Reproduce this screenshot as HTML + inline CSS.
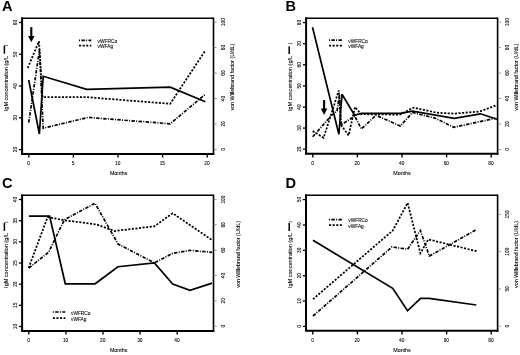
<!DOCTYPE html>
<html><head><meta charset="utf-8"><style>
html,body{margin:0;padding:0;background:#fff;}
svg{display:block;will-change:transform;}
text{font-family:"Liberation Sans", sans-serif;}
text.s{stroke:#000;stroke-width:0.08px;}
</style></head><body>
<svg width="520" height="355" viewBox="0 0 520 355" font-family='"Liberation Sans", sans-serif'>
<rect width="520" height="355" fill="#fff"/>
<text x="1.9" y="11.2" font-size="14.6" font-weight="bold">A</text>
<path d="M22.1,17.5V153.9" stroke="#000" stroke-width="2" fill="none"/>
<path d="M21.1,153.9H214.3" stroke="#000" stroke-width="2" fill="none"/>
<path d="M21.1,18.3H213.5" stroke="#000" stroke-width="1.6" fill="none"/>
<path d="M213.5,17.5V154.9" stroke="#000" stroke-width="1.6" fill="none"/>
<line x1="18.900000000000002" y1="149.6" x2="22.1" y2="149.6" stroke="#000" stroke-width="1.3"/>
<text class="s" transform="translate(16.900000000000002,149.6) rotate(-90)" text-anchor="middle" font-size="4.8" fill="#000">20</text>
<line x1="18.900000000000002" y1="117.8" x2="22.1" y2="117.8" stroke="#000" stroke-width="1.3"/>
<text class="s" transform="translate(16.900000000000002,117.8) rotate(-90)" text-anchor="middle" font-size="4.8" fill="#000">30</text>
<line x1="18.900000000000002" y1="86.0" x2="22.1" y2="86.0" stroke="#000" stroke-width="1.3"/>
<text class="s" transform="translate(16.900000000000002,86.0) rotate(-90)" text-anchor="middle" font-size="4.8" fill="#000">40</text>
<line x1="18.900000000000002" y1="54.3" x2="22.1" y2="54.3" stroke="#000" stroke-width="1.3"/>
<text class="s" transform="translate(16.900000000000002,54.3) rotate(-90)" text-anchor="middle" font-size="4.8" fill="#000">50</text>
<line x1="18.900000000000002" y1="22.5" x2="22.1" y2="22.5" stroke="#000" stroke-width="1.3"/>
<text class="s" transform="translate(16.900000000000002,22.5) rotate(-90)" text-anchor="middle" font-size="4.8" fill="#000">60</text>
<line x1="213.5" y1="149.4" x2="216.7" y2="149.4" stroke="#777" stroke-width="0.8"/>
<text class="s" transform="translate(224.7,149.4) rotate(-90)" text-anchor="middle" font-size="4.8" fill="#000">0</text>
<line x1="213.5" y1="123.9" x2="216.7" y2="123.9" stroke="#777" stroke-width="0.8"/>
<text class="s" transform="translate(224.7,123.9) rotate(-90)" text-anchor="middle" font-size="4.8" fill="#000">20</text>
<line x1="213.5" y1="98.5" x2="216.7" y2="98.5" stroke="#777" stroke-width="0.8"/>
<text class="s" transform="translate(224.7,98.5) rotate(-90)" text-anchor="middle" font-size="4.8" fill="#000">40</text>
<line x1="213.5" y1="73.0" x2="216.7" y2="73.0" stroke="#777" stroke-width="0.8"/>
<text class="s" transform="translate(224.7,73.0) rotate(-90)" text-anchor="middle" font-size="4.8" fill="#000">60</text>
<line x1="213.5" y1="47.6" x2="216.7" y2="47.6" stroke="#777" stroke-width="0.8"/>
<text class="s" transform="translate(224.7,47.6) rotate(-90)" text-anchor="middle" font-size="4.8" fill="#000">80</text>
<line x1="213.5" y1="22.1" x2="216.7" y2="22.1" stroke="#777" stroke-width="0.8"/>
<text class="s" transform="translate(224.7,22.1) rotate(-90)" text-anchor="middle" font-size="4.8" fill="#000">100</text>
<line x1="28.8" y1="153.9" x2="28.8" y2="157.5" stroke="#000" stroke-width="1.4"/>
<text class="s" x="28.5" y="165.3" text-anchor="middle" font-size="4.8" fill="#000">0</text>
<line x1="73.39999999999999" y1="153.9" x2="73.39999999999999" y2="157.5" stroke="#000" stroke-width="1.4"/>
<text class="s" x="73.1" y="165.3" text-anchor="middle" font-size="4.8" fill="#000">5</text>
<line x1="118.0" y1="153.9" x2="118.0" y2="157.5" stroke="#000" stroke-width="1.4"/>
<text class="s" x="117.7" y="165.3" text-anchor="middle" font-size="4.8" fill="#000">10</text>
<line x1="162.60000000000002" y1="153.9" x2="162.60000000000002" y2="157.5" stroke="#000" stroke-width="1.4"/>
<text class="s" x="162.3" y="165.3" text-anchor="middle" font-size="4.8" fill="#000">15</text>
<line x1="207.20000000000002" y1="153.9" x2="207.20000000000002" y2="157.5" stroke="#000" stroke-width="1.4"/>
<text class="s" x="206.9" y="165.3" text-anchor="middle" font-size="4.8" fill="#000">20</text>
<text class="s" x="118.6" y="175" text-anchor="middle" font-size="5.3" fill="#000">Months</text>
<text class="s" transform="translate(7.9,111.2) rotate(-90)" font-size="5.5" fill="#000" textLength="55.2" lengthAdjust="spacingAndGlyphs">IgM concentration (g/L</text>
<line x1="4.4" y1="45.8" x2="4.4" y2="53.7" stroke="#000" stroke-width="1.5"/>
<line x1="3.9" y1="45.4" x2="8.1" y2="45.4" stroke="#555" stroke-width="0.8"/>
<text class="s" transform="translate(234.0,77.15) rotate(-90)" text-anchor="middle" font-size="5.4" fill="#000" textLength="66.89999999999999" lengthAdjust="spacingAndGlyphs">von Willebrand factor (U/dL)</text>
<line x1="79" y1="40.4" x2="91.3" y2="40.4" fill="none" stroke="#000" stroke-width="1.7" stroke-dasharray="3.4,1.3,1,1.4" stroke-dashoffset="4.7"/>
<line x1="79" y1="45.6" x2="91.3" y2="45.6" fill="none" stroke="#000" stroke-width="1.75" stroke-dasharray="2.1,1.5"/>
<text class="s" x="97.6" y="43.1" font-size="4.8" fill="#000">vWFRCo</text>
<text class="s" x="97.6" y="48.300000000000004" font-size="4.8" fill="#000">vWFAg</text>
<polyline points="28.7,122.6 39.5,50.0 43.2,128.2 88.2,117.4 170.2,123.8 205.4,94.2" fill="none" stroke="#000" stroke-width="1.7" stroke-dasharray="3.4,1.3,1,1.4"/>
<polyline points="27.7,68.0 39.0,41.3 42.5,97.2 87.0,97.2 170.2,103.8 205.4,50.3" fill="none" stroke="#000" stroke-width="1.75" stroke-dasharray="2.1,1.5"/>
<polyline points="28.7,80.0 39.4,134.0 43.2,76.3 86.7,89.3 170.2,87.2 205.4,101.8" fill="none" stroke="#000" stroke-width="1.7" stroke-linejoin="miter" stroke-miterlimit="3"/>
<line x1="31.3" y1="27.1" x2="31.3" y2="38.3" stroke="#000" stroke-width="2.1"/>
<polygon points="28.1,35.9 34.5,35.9 31.3,42.3" fill="#000"/>
<text x="285.6" y="11.4" font-size="14.6" font-weight="bold">B</text>
<path d="M306.1,17.5V153.8" stroke="#000" stroke-width="2" fill="none"/>
<path d="M305.1,153.8H498.40000000000003" stroke="#000" stroke-width="2" fill="none"/>
<path d="M305.1,18.3H497.6" stroke="#000" stroke-width="1.6" fill="none"/>
<path d="M497.6,17.5V154.8" stroke="#000" stroke-width="1.6" fill="none"/>
<line x1="302.90000000000003" y1="149.2" x2="306.1" y2="149.2" stroke="#000" stroke-width="1.3"/>
<text class="s" transform="translate(300.90000000000003,149.2) rotate(-90)" text-anchor="middle" font-size="4.8" fill="#000">20</text>
<line x1="302.90000000000003" y1="128.1" x2="306.1" y2="128.1" stroke="#000" stroke-width="1.3"/>
<text class="s" transform="translate(300.90000000000003,128.1) rotate(-90)" text-anchor="middle" font-size="4.8" fill="#000">30</text>
<line x1="302.90000000000003" y1="107.0" x2="306.1" y2="107.0" stroke="#000" stroke-width="1.3"/>
<text class="s" transform="translate(300.90000000000003,107.0) rotate(-90)" text-anchor="middle" font-size="4.8" fill="#000">40</text>
<line x1="302.90000000000003" y1="85.9" x2="306.1" y2="85.9" stroke="#000" stroke-width="1.3"/>
<text class="s" transform="translate(300.90000000000003,85.9) rotate(-90)" text-anchor="middle" font-size="4.8" fill="#000">50</text>
<line x1="302.90000000000003" y1="64.8" x2="306.1" y2="64.8" stroke="#000" stroke-width="1.3"/>
<text class="s" transform="translate(300.90000000000003,64.8) rotate(-90)" text-anchor="middle" font-size="4.8" fill="#000">60</text>
<line x1="302.90000000000003" y1="43.7" x2="306.1" y2="43.7" stroke="#000" stroke-width="1.3"/>
<text class="s" transform="translate(300.90000000000003,43.7) rotate(-90)" text-anchor="middle" font-size="4.8" fill="#000">70</text>
<line x1="302.90000000000003" y1="22.6" x2="306.1" y2="22.6" stroke="#000" stroke-width="1.3"/>
<text class="s" transform="translate(300.90000000000003,22.6) rotate(-90)" text-anchor="middle" font-size="4.8" fill="#000">80</text>
<line x1="497.6" y1="149.5" x2="500.8" y2="149.5" stroke="#777" stroke-width="0.8"/>
<text class="s" transform="translate(508.8,149.5) rotate(-90)" text-anchor="middle" font-size="4.8" fill="#000">0</text>
<line x1="497.6" y1="124.0" x2="500.8" y2="124.0" stroke="#777" stroke-width="0.8"/>
<text class="s" transform="translate(508.8,124.0) rotate(-90)" text-anchor="middle" font-size="4.8" fill="#000">20</text>
<line x1="497.6" y1="98.5" x2="500.8" y2="98.5" stroke="#777" stroke-width="0.8"/>
<text class="s" transform="translate(508.8,98.5) rotate(-90)" text-anchor="middle" font-size="4.8" fill="#000">40</text>
<line x1="497.6" y1="73.1" x2="500.8" y2="73.1" stroke="#777" stroke-width="0.8"/>
<text class="s" transform="translate(508.8,73.1) rotate(-90)" text-anchor="middle" font-size="4.8" fill="#000">60</text>
<line x1="497.6" y1="47.6" x2="500.8" y2="47.6" stroke="#777" stroke-width="0.8"/>
<text class="s" transform="translate(508.8,47.6) rotate(-90)" text-anchor="middle" font-size="4.8" fill="#000">80</text>
<line x1="497.6" y1="22.1" x2="500.8" y2="22.1" stroke="#777" stroke-width="0.8"/>
<text class="s" transform="translate(508.8,22.1) rotate(-90)" text-anchor="middle" font-size="4.8" fill="#000">100</text>
<line x1="312.8" y1="153.8" x2="312.8" y2="157.4" stroke="#000" stroke-width="1.4"/>
<text class="s" x="312.5" y="165.20000000000002" text-anchor="middle" font-size="4.8" fill="#000">0</text>
<line x1="357.40000000000003" y1="153.8" x2="357.40000000000003" y2="157.4" stroke="#000" stroke-width="1.4"/>
<text class="s" x="357.1" y="165.20000000000002" text-anchor="middle" font-size="4.8" fill="#000">20</text>
<line x1="402.0" y1="153.8" x2="402.0" y2="157.4" stroke="#000" stroke-width="1.4"/>
<text class="s" x="401.7" y="165.20000000000002" text-anchor="middle" font-size="4.8" fill="#000">40</text>
<line x1="446.6" y1="153.8" x2="446.6" y2="157.4" stroke="#000" stroke-width="1.4"/>
<text class="s" x="446.3" y="165.20000000000002" text-anchor="middle" font-size="4.8" fill="#000">60</text>
<line x1="491.2" y1="153.8" x2="491.2" y2="157.4" stroke="#000" stroke-width="1.4"/>
<text class="s" x="490.9" y="165.20000000000002" text-anchor="middle" font-size="4.8" fill="#000">80</text>
<text class="s" x="402" y="175" text-anchor="middle" font-size="5.3" fill="#000">Months</text>
<text class="s" transform="translate(291.5,111.2) rotate(-90)" font-size="5.5" fill="#000" textLength="55.400000000000006" lengthAdjust="spacingAndGlyphs">IgM concentration (g/L</text>
<line x1="289.2" y1="46.2" x2="289.2" y2="54.1" stroke="#000" stroke-width="1.5"/>
<line x1="288.3" y1="43.6" x2="292.6" y2="43.6" stroke="#555" stroke-width="0.8"/>
<text class="s" transform="translate(517.6,77.25) rotate(-90)" text-anchor="middle" font-size="5.4" fill="#000" textLength="66.9" lengthAdjust="spacingAndGlyphs">von Willebrand factor (U/dL)</text>
<line x1="329" y1="40.2" x2="342" y2="40.2" fill="none" stroke="#000" stroke-width="1.7" stroke-dasharray="3.4,1.3,1,1.4" stroke-dashoffset="4.7"/>
<line x1="329" y1="45.6" x2="342" y2="45.6" fill="none" stroke="#000" stroke-width="1.75" stroke-dasharray="2.1,1.5"/>
<text class="s" x="348.3" y="42.900000000000006" font-size="4.8" fill="#000">vWFRCo</text>
<text class="s" x="348.3" y="48.300000000000004" font-size="4.8" fill="#000">vWFAg</text>
<polyline points="312.7,136.8 331.5,115.4 337.0,111.0 339.5,95.0 341.0,125.0 354.8,116.0 361.3,129.0 376.0,115.3 400.4,126.0 412.5,112.5 435.5,118.3 453.8,127.3 495.5,118.3" fill="none" stroke="#000" stroke-width="1.7" stroke-dasharray="3.4,1.3,1,1.4"/>
<polyline points="312.7,131.1 323.6,137.8 338.8,90.4 341.0,125.0 348.6,135.4 355.0,107.0 361.0,114.2 400.0,114.6 413.5,107.6 436.5,112.7 453.8,113.6 479.8,111.5 496.5,105.3" fill="none" stroke="#000" stroke-width="1.75" stroke-dasharray="2.1,1.5"/>
<polyline points="312.5,27.2 338.9,134.2 342.0,94.3 354.6,115.3 361.3,113.4 400.4,113.3 412.5,111.2 454.3,118.4 480.4,113.8 497.0,119.2" fill="none" stroke="#000" stroke-width="1.7" stroke-linejoin="miter" stroke-miterlimit="3"/>
<line x1="324.1" y1="100.1" x2="324.1" y2="111" stroke="#000" stroke-width="2.1"/>
<polygon points="320.90000000000003,108.6 327.3,108.6 324.1,115" fill="#000"/>
<text x="1.9" y="188.4" font-size="14.6" font-weight="bold">C</text>
<path d="M22.1,194.5V330.9" stroke="#000" stroke-width="2" fill="none"/>
<path d="M21.1,330.9H214.3" stroke="#000" stroke-width="2" fill="none"/>
<path d="M21.1,195.3H213.5" stroke="#000" stroke-width="1.6" fill="none"/>
<path d="M213.5,194.5V331.9" stroke="#000" stroke-width="1.6" fill="none"/>
<line x1="18.900000000000002" y1="326.5" x2="22.1" y2="326.5" stroke="#000" stroke-width="1.3"/>
<text class="s" transform="translate(16.900000000000002,326.5) rotate(-90)" text-anchor="middle" font-size="4.8" fill="#000">10</text>
<line x1="18.900000000000002" y1="305.3" x2="22.1" y2="305.3" stroke="#000" stroke-width="1.3"/>
<text class="s" transform="translate(16.900000000000002,305.3) rotate(-90)" text-anchor="middle" font-size="4.8" fill="#000">15</text>
<line x1="18.900000000000002" y1="284.2" x2="22.1" y2="284.2" stroke="#000" stroke-width="1.3"/>
<text class="s" transform="translate(16.900000000000002,284.2) rotate(-90)" text-anchor="middle" font-size="4.8" fill="#000">20</text>
<line x1="18.900000000000002" y1="263.0" x2="22.1" y2="263.0" stroke="#000" stroke-width="1.3"/>
<text class="s" transform="translate(16.900000000000002,263.0) rotate(-90)" text-anchor="middle" font-size="4.8" fill="#000">25</text>
<line x1="18.900000000000002" y1="241.8" x2="22.1" y2="241.8" stroke="#000" stroke-width="1.3"/>
<text class="s" transform="translate(16.900000000000002,241.8) rotate(-90)" text-anchor="middle" font-size="4.8" fill="#000">30</text>
<line x1="18.900000000000002" y1="220.7" x2="22.1" y2="220.7" stroke="#000" stroke-width="1.3"/>
<text class="s" transform="translate(16.900000000000002,220.7) rotate(-90)" text-anchor="middle" font-size="4.8" fill="#000">35</text>
<line x1="18.900000000000002" y1="199.5" x2="22.1" y2="199.5" stroke="#000" stroke-width="1.3"/>
<text class="s" transform="translate(16.900000000000002,199.5) rotate(-90)" text-anchor="middle" font-size="4.8" fill="#000">40</text>
<line x1="213.5" y1="326.1" x2="216.7" y2="326.1" stroke="#777" stroke-width="0.8"/>
<text class="s" transform="translate(224.7,326.1) rotate(-90)" text-anchor="middle" font-size="4.8" fill="#000">0</text>
<line x1="213.5" y1="300.8" x2="216.7" y2="300.8" stroke="#777" stroke-width="0.8"/>
<text class="s" transform="translate(224.7,300.8) rotate(-90)" text-anchor="middle" font-size="4.8" fill="#000">20</text>
<line x1="213.5" y1="275.5" x2="216.7" y2="275.5" stroke="#777" stroke-width="0.8"/>
<text class="s" transform="translate(224.7,275.5) rotate(-90)" text-anchor="middle" font-size="4.8" fill="#000">40</text>
<line x1="213.5" y1="250.2" x2="216.7" y2="250.2" stroke="#777" stroke-width="0.8"/>
<text class="s" transform="translate(224.7,250.2) rotate(-90)" text-anchor="middle" font-size="4.8" fill="#000">60</text>
<line x1="213.5" y1="224.9" x2="216.7" y2="224.9" stroke="#777" stroke-width="0.8"/>
<text class="s" transform="translate(224.7,224.9) rotate(-90)" text-anchor="middle" font-size="4.8" fill="#000">80</text>
<line x1="213.5" y1="199.6" x2="216.7" y2="199.6" stroke="#777" stroke-width="0.8"/>
<text class="s" transform="translate(224.7,199.6) rotate(-90)" text-anchor="middle" font-size="4.8" fill="#000">100</text>
<line x1="28.8" y1="330.9" x2="28.8" y2="334.5" stroke="#000" stroke-width="1.4"/>
<text class="s" x="28.5" y="342.29999999999995" text-anchor="middle" font-size="4.8" fill="#000">0</text>
<line x1="65.89999999999999" y1="330.9" x2="65.89999999999999" y2="334.5" stroke="#000" stroke-width="1.4"/>
<text class="s" x="65.6" y="342.29999999999995" text-anchor="middle" font-size="4.8" fill="#000">10</text>
<line x1="103.0" y1="330.9" x2="103.0" y2="334.5" stroke="#000" stroke-width="1.4"/>
<text class="s" x="102.7" y="342.29999999999995" text-anchor="middle" font-size="4.8" fill="#000">20</text>
<line x1="140.10000000000002" y1="330.9" x2="140.10000000000002" y2="334.5" stroke="#000" stroke-width="1.4"/>
<text class="s" x="139.8" y="342.29999999999995" text-anchor="middle" font-size="4.8" fill="#000">30</text>
<line x1="177.20000000000002" y1="330.9" x2="177.20000000000002" y2="334.5" stroke="#000" stroke-width="1.4"/>
<text class="s" x="176.9" y="342.29999999999995" text-anchor="middle" font-size="4.8" fill="#000">40</text>
<text class="s" x="118.6" y="352" text-anchor="middle" font-size="5.3" fill="#000">Months</text>
<text class="s" transform="translate(7.9,287.9) rotate(-90)" font-size="5.5" fill="#000" textLength="54.89999999999998" lengthAdjust="spacingAndGlyphs">IgM concentration (g/L</text>
<line x1="4.4" y1="223.0" x2="4.4" y2="230.9" stroke="#000" stroke-width="1.5"/>
<line x1="4.0" y1="222.3" x2="8.4" y2="222.3" stroke="#555" stroke-width="0.8"/>
<text class="s" transform="translate(240.4,254.4) rotate(-90)" text-anchor="middle" font-size="5.4" fill="#000" textLength="66.80000000000001" lengthAdjust="spacingAndGlyphs">von Willebrand factor (U/dL)</text>
<line x1="52.8" y1="312" x2="65.4" y2="312" fill="none" stroke="#000" stroke-width="1.7" stroke-dasharray="3.4,1.3,1,1.4" stroke-dashoffset="4.7"/>
<line x1="52.8" y1="318" x2="65.4" y2="318" fill="none" stroke="#000" stroke-width="1.75" stroke-dasharray="2.1,1.5"/>
<text class="s" x="71.0" y="314.7" font-size="4.8" fill="#000">vWFRCo</text>
<text class="s" x="71.0" y="320.7" font-size="4.8" fill="#000">vWFAg</text>
<polyline points="28.9,268.0 48.6,252.2 64.4,219.7 95.0,203.3 118.1,244.0 154.4,262.9 172.7,253.3 190.0,250.4 212.1,252.3" fill="none" stroke="#000" stroke-width="1.7" stroke-dasharray="3.4,1.3,1,1.4"/>
<polyline points="28.6,268.0 47.6,217.1 64.4,220.2 97.0,224.6 114.5,231.0 154.4,226.3 172.6,213.2 212.5,240.4" fill="none" stroke="#000" stroke-width="1.75" stroke-dasharray="2.1,1.5"/>
<polyline points="28.9,216.1 49.6,216.1 65.3,283.8 95.1,283.8 117.9,266.7 154.4,262.9 172.7,284.0 190.0,290.4 212.1,283.1" fill="none" stroke="#000" stroke-width="1.7" stroke-linejoin="miter" stroke-miterlimit="3"/>
<text x="285.4" y="187.8" font-size="14.6" font-weight="bold">D</text>
<path d="M306.0,194.5V330.8" stroke="#000" stroke-width="2" fill="none"/>
<path d="M305.0,330.8H498.40000000000003" stroke="#000" stroke-width="2" fill="none"/>
<path d="M305.0,195.3H497.6" stroke="#000" stroke-width="1.6" fill="none"/>
<path d="M497.6,194.5V331.8" stroke="#000" stroke-width="1.6" fill="none"/>
<line x1="302.8" y1="326.4" x2="306.0" y2="326.4" stroke="#000" stroke-width="1.3"/>
<text class="s" transform="translate(300.8,326.4) rotate(-90)" text-anchor="middle" font-size="4.8" fill="#000">0</text>
<line x1="302.8" y1="301.0" x2="306.0" y2="301.0" stroke="#000" stroke-width="1.3"/>
<text class="s" transform="translate(300.8,301.0) rotate(-90)" text-anchor="middle" font-size="4.8" fill="#000">10</text>
<line x1="302.8" y1="275.7" x2="306.0" y2="275.7" stroke="#000" stroke-width="1.3"/>
<text class="s" transform="translate(300.8,275.7) rotate(-90)" text-anchor="middle" font-size="4.8" fill="#000">20</text>
<line x1="302.8" y1="250.3" x2="306.0" y2="250.3" stroke="#000" stroke-width="1.3"/>
<text class="s" transform="translate(300.8,250.3) rotate(-90)" text-anchor="middle" font-size="4.8" fill="#000">30</text>
<line x1="302.8" y1="225.0" x2="306.0" y2="225.0" stroke="#000" stroke-width="1.3"/>
<text class="s" transform="translate(300.8,225.0) rotate(-90)" text-anchor="middle" font-size="4.8" fill="#000">40</text>
<line x1="302.8" y1="199.6" x2="306.0" y2="199.6" stroke="#000" stroke-width="1.3"/>
<text class="s" transform="translate(300.8,199.6) rotate(-90)" text-anchor="middle" font-size="4.8" fill="#000">50</text>
<line x1="497.6" y1="326.2" x2="500.8" y2="326.2" stroke="#777" stroke-width="0.8"/>
<text class="s" transform="translate(508.8,326.2) rotate(-90)" text-anchor="middle" font-size="4.8" fill="#000">0</text>
<line x1="497.6" y1="288.9" x2="500.8" y2="288.9" stroke="#777" stroke-width="0.8"/>
<text class="s" transform="translate(508.8,288.9) rotate(-90)" text-anchor="middle" font-size="4.8" fill="#000">50</text>
<line x1="497.6" y1="251.7" x2="500.8" y2="251.7" stroke="#777" stroke-width="0.8"/>
<text class="s" transform="translate(508.8,251.7) rotate(-90)" text-anchor="middle" font-size="4.8" fill="#000">100</text>
<line x1="497.6" y1="214.4" x2="500.8" y2="214.4" stroke="#777" stroke-width="0.8"/>
<text class="s" transform="translate(508.8,214.4) rotate(-90)" text-anchor="middle" font-size="4.8" fill="#000">150</text>
<line x1="312.8" y1="330.8" x2="312.8" y2="334.40000000000003" stroke="#000" stroke-width="1.4"/>
<text class="s" x="312.5" y="342.2" text-anchor="middle" font-size="4.8" fill="#000">0</text>
<line x1="357.40000000000003" y1="330.8" x2="357.40000000000003" y2="334.40000000000003" stroke="#000" stroke-width="1.4"/>
<text class="s" x="357.1" y="342.2" text-anchor="middle" font-size="4.8" fill="#000">20</text>
<line x1="402.0" y1="330.8" x2="402.0" y2="334.40000000000003" stroke="#000" stroke-width="1.4"/>
<text class="s" x="401.7" y="342.2" text-anchor="middle" font-size="4.8" fill="#000">40</text>
<line x1="446.6" y1="330.8" x2="446.6" y2="334.40000000000003" stroke="#000" stroke-width="1.4"/>
<text class="s" x="446.3" y="342.2" text-anchor="middle" font-size="4.8" fill="#000">60</text>
<line x1="491.2" y1="330.8" x2="491.2" y2="334.40000000000003" stroke="#000" stroke-width="1.4"/>
<text class="s" x="490.9" y="342.2" text-anchor="middle" font-size="4.8" fill="#000">80</text>
<text class="s" x="402" y="352" text-anchor="middle" font-size="5.3" fill="#000">Months</text>
<text class="s" transform="translate(291.5,288.0) rotate(-90)" font-size="5.5" fill="#000" textLength="55.0" lengthAdjust="spacingAndGlyphs">IgM concentration (g/L</text>
<line x1="289.2" y1="223.0" x2="289.2" y2="230.9" stroke="#000" stroke-width="1.5"/>
<line x1="288.6" y1="221.8" x2="292.6" y2="221.8" stroke="#555" stroke-width="0.8"/>
<text class="s" transform="translate(517.6,254.5) rotate(-90)" text-anchor="middle" font-size="5.4" fill="#000" textLength="67" lengthAdjust="spacingAndGlyphs">von Willebrand factor (U/dL)</text>
<line x1="329" y1="219.7" x2="342" y2="219.7" fill="none" stroke="#000" stroke-width="1.7" stroke-dasharray="3.4,1.3,1,1.4" stroke-dashoffset="4.7"/>
<line x1="329" y1="225" x2="342" y2="225" fill="none" stroke="#000" stroke-width="1.75" stroke-dasharray="2.1,1.5"/>
<text class="s" x="348.3" y="222.39999999999998" font-size="4.8" fill="#000">vWFRCo</text>
<text class="s" x="348.3" y="227.7" font-size="4.8" fill="#000">vWFAg</text>
<polyline points="313.0,316.0 391.9,247.0 407.6,249.2 420.4,230.5 429.3,256.1 476.6,229.5" fill="none" stroke="#000" stroke-width="1.7" stroke-dasharray="3.4,1.3,1,1.4"/>
<polyline points="313.0,299.2 392.8,230.5 407.6,202.9 420.4,253.2 428.3,239.4 476.6,251.2" fill="none" stroke="#000" stroke-width="1.75" stroke-dasharray="2.1,1.5"/>
<polyline points="313.0,240.3 392.7,288.3 407.5,310.8 420.6,298.3 429.2,298.3 476.3,305.0" fill="none" stroke="#000" stroke-width="1.7" stroke-linejoin="miter" stroke-miterlimit="3"/>
</svg>
</body></html>
